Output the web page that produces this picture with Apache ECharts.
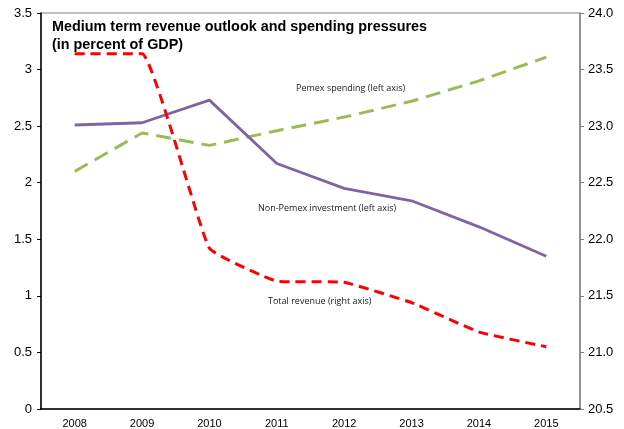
<!DOCTYPE html>
<html>
<head>
<meta charset="utf-8">
<script src="https://cdn.jsdelivr.net/npm/echarts@6/dist/echarts.min.js"></script>
<style>
  html, body { margin: 0; padding: 0; background: #fff; }
  #chart { width: 624px; height: 429px; }
</style>
</head>
<body>
<div id="chart"></div>
<script>
var years = ['2008', '2009', '2010', '2011', '2012', '2013', '2014', '2015'];
// left axis, percent of GDP
var pemexSpending = [2.10, 2.44, 2.33, 2.46, 2.58, 2.72, 2.90, 3.11];
var nonPemexInvestment = [2.51, 2.53, 2.73, 2.17, 1.95, 1.84, 1.61, 1.35];
// right axis
var totalRevenue = [23.64, 23.64, 21.92, 21.63, 21.62, 21.44, 21.18, 21.05];

var labelFont = 'Liberation Sans, Arial, sans-serif';
var noteFont = '"Liberation Sans Narrow", "Open Sans", sans-serif';

var chart = echarts.init(document.getElementById('chart'));
var option = {
    animation: false,
    grid: {
        left: 41, right: 44, top: 13, bottom: 19,
        show: true, borderColor: '#808080', borderWidth: 1
    },
    xAxis: {
        type: 'category',
        data: years,
        boundaryGap: true,
        axisLine: { lineStyle: { color: '#000', width: 1.5 } },
        axisTick: { inside: true, length: 4, lineStyle: { color: '#808080' } },
        axisLabel: { color: '#000', fontSize: 11, fontFamily: labelFont, margin: 9 },
        splitLine: { show: false }
    },
    yAxis: [{
        type: 'value',
        min: 0, max: 3.5, interval: 0.5,
        position: 'left',
        axisLine: { show: true, lineStyle: { color: '#000', width: 1.5 } },
        axisTick: { show: true, length: 4, lineStyle: { color: '#000' } },
        axisLabel: { color: '#000', fontSize: 13, fontFamily: labelFont, margin: 9 },
        splitLine: { show: false }
    }, {
        type: 'value',
        min: 20.5, max: 24, interval: 0.5,
        position: 'right',
        axisLine: { show: true, lineStyle: { color: '#808080', width: 1.5 } },
        axisTick: { show: true, length: 4, lineStyle: { color: '#808080' } },
        axisLabel: {
            color: '#000', fontSize: 13, fontFamily: labelFont, margin: 8,
            formatter: function (v) { return v.toFixed(1); }
        },
        splitLine: { show: false }
    }],
    series: [{
        name: 'Pemex spending (left axis)',
        type: 'line',
        yAxisIndex: 0,
        data: pemexSpending,
        symbol: 'none',
        lineStyle: { color: '#9BBB59', width: 3, type: [15, 8] }
    }, {
        name: 'Non-Pemex investment (left axis)',
        type: 'line',
        yAxisIndex: 0,
        data: nonPemexInvestment,
        symbol: 'none',
        lineStyle: { color: '#8064A2', width: 2.8 }
    }, {
        name: 'Total revenue (right axis)',
        type: 'line',
        yAxisIndex: 1,
        data: totalRevenue,
        symbol: 'none',
        smooth: 0.1,
        lineStyle: { color: '#FF0000', width: 3, type: [10, 6] }
    }],
    graphic: [{
        type: 'text', left: 52, top: 18,
        style: {
            text: 'Medium term revenue outlook and spending pressures\n(in percent of GDP)',
            font: 'bold 14.4px ' + labelFont, fill: '#000', lineHeight: 18
        }
    }, {
        type: 'text', left: 296, top: 84,
        style: { text: 'Pemex spending (left axis)', font: '9px ' + noteFont, fill: '#1a1a1a' }
    }, {
        type: 'text', left: 258, top: 204,
        style: { text: 'Non-Pemex investment (left axis)', font: '9px ' + noteFont, fill: '#1a1a1a' }
    }, {
        type: 'text', left: 268, top: 297,
        style: { text: 'Total revenue (right axis)', font: '9px ' + noteFont, fill: '#1a1a1a' }
    }]
};
chart.setOption(option);
</script>
</body>
</html>
